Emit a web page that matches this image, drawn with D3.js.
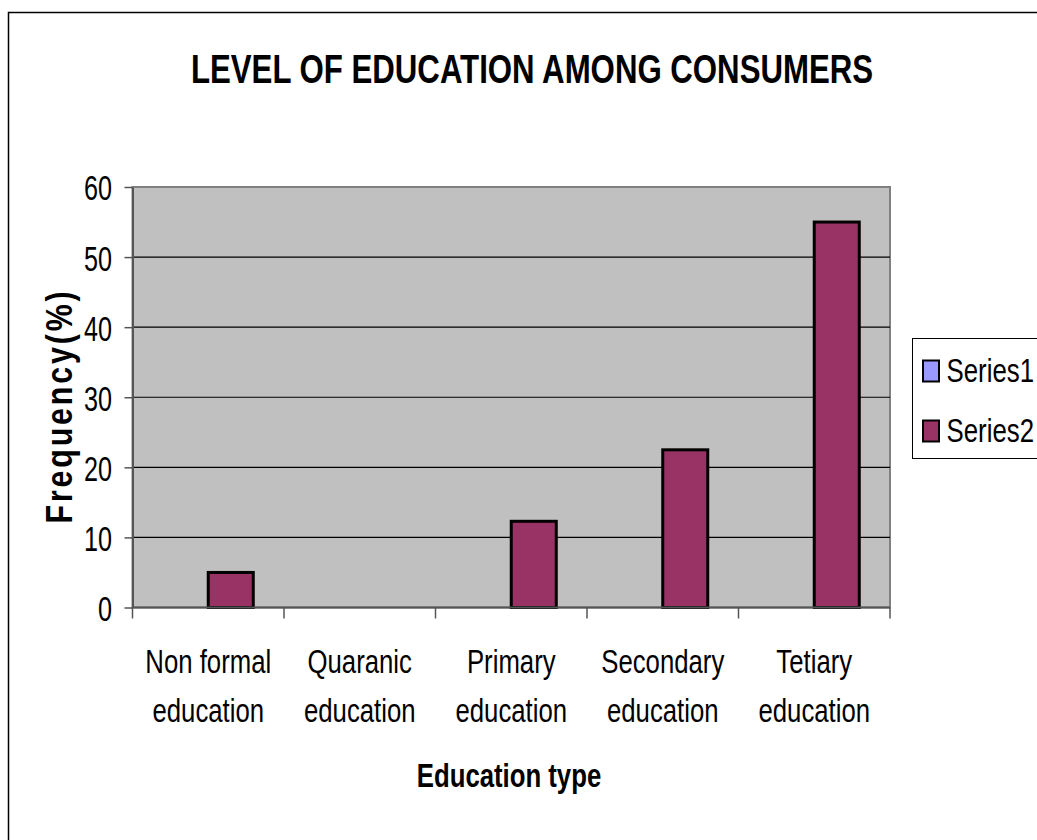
<!DOCTYPE html>
<html>
<head>
<meta charset="utf-8">
<script src="https://cdn.jsdelivr.net/npm/d3@7"></script>
<style>
    body { margin: 0; background: #fff; }
    svg { display: block; font-family: "Liberation Sans", Arial, sans-serif; }
</style>
</head>
<body>
<div id="chart"></div>
<script>
const categories = [
    ['Non formal', 'education'],
    ['Quaranic', 'education'],
    ['Primary', 'education'],
    ['Secondary', 'education'],
    ['Tetiary', 'education']
]
const seriesNames = ['Series1', 'Series2']
const series1Values = [0, 0, 0, 0, 0]
const series2Values = [5, 0, 12.3, 22.5, 55]
const yTicks = [0, 10, 20, 30, 40, 50, 60]

const seriesColours = ['#9999FF', '#993366']
const squeeze = 0.78

const width = 1037
const height = 840
const plotLeft = 132.5
const plotRight = 890
const plotTop = 187
const plotBottom = 607.5

const svg = d3.select('#chart')
    .append('svg')
    .attr('width', width)
    .attr('height', height)

// outer chart border (runs off the right and bottom)
svg.append('rect')
    .attr('x', 8.5)
    .attr('y', 12.5)
    .attr('width', 1100)
    .attr('height', 900)
    .attr('fill', '#fff')
    .attr('stroke', '#000')
    .attr('stroke-width', 1.5)

function squeezedText(parent, x, y, txt, opts = {}) {
    return parent.append('text')
        .attr('transform', `translate(${x},${y}) scale(${opts.squeeze || squeeze},1)`)
        .attr('text-anchor', opts.anchor || 'middle')
        .attr('font-size', opts.size || 33)
        .attr('font-weight', opts.weight || 'normal')
        .attr('fill', '#000')
        .text(txt)
}

squeezedText(svg, 532, 83, 'LEVEL OF EDUCATION AMONG CONSUMERS', { size: 40, weight: 'bold' })

const rows = categories.map((c, i) => ({
    key: c.join(' '),
    label: c,
    values: [series1Values[i], series2Values[i]]
}))

const x = d3.scaleBand()
    .domain(rows.map(d => d.key))
    .range([plotLeft, plotRight])
    .padding(0)
const xInner = d3.scaleBand()
    .domain(seriesNames)
    .range([0, x.bandwidth()])
    .paddingInner(0)
    .paddingOuter(0.683)
const y = d3.scaleLinear()
    .domain([0, 60])
    .range([plotBottom, plotTop])

// plot area
svg.append('rect')
    .attr('x', plotLeft)
    .attr('y', plotTop)
    .attr('width', plotRight - plotLeft)
    .attr('height', plotBottom - plotTop)
    .attr('fill', '#C0C0C0')
    .attr('stroke', '#808080')
    .attr('stroke-width', 2)

svg.append('g')
    .selectAll('line')
    .data(yTicks.filter(t => t > 0 && t < 60))
    .enter()
    .append('line')
    .attr('x1', plotLeft)
    .attr('x2', plotRight)
    .attr('y1', d => y(d))
    .attr('y2', d => y(d))
    .attr('stroke', '#000')
    .attr('stroke-width', 1.2)

// bars
const groups = svg.append('g')
    .selectAll('g')
    .data(rows)
    .enter()
    .append('g')
    .attr('transform', d => `translate(${x(d.key)},0)`)
groups.selectAll('rect')
    .data(d => d.values.map((v, i) => ({ name: seriesNames[i], value: v, idx: i })))
    .enter()
    .append('rect')
    .attr('x', d => xInner(d.name))
    .attr('width', xInner.bandwidth())
    .attr('y', d => y(d.value))
    .attr('height', d => y(0) - y(d.value))
    .attr('fill', d => seriesColours[d.idx])
    .attr('stroke', d => d.value > 0 ? '#000' : 'none')
    .attr('stroke-width', 3)

// y axis
const yAxis = svg.append('g')
    .attr('transform', `translate(${plotLeft},0)`)
    .call(d3.axisLeft(y).tickValues(yTicks).tickSize(8).tickSizeOuter(0))
yAxis.select('.domain').attr('stroke', '#555').attr('stroke-width', 2)
yAxis.selectAll('.tick line').attr('stroke', '#555').attr('stroke-width', 1.5)
yAxis.selectAll('.tick text')
    .attr('x', 0)
    .attr('dy', '0.36em')
    .attr('transform', 'translate(-20.5,0) scale(0.7,1)')
    .attr('font-size', 36)
    .attr('font-family', null)
    .attr('fill', '#000')

// x axis
svg.append('line')
    .attr('x1', plotLeft)
    .attr('x2', plotRight)
    .attr('y1', plotBottom)
    .attr('y2', plotBottom)
    .attr('stroke', '#555')
    .attr('stroke-width', 2)
const boundaries = rows.map(d => x(d.key)).concat([x.range()[1]])
svg.append('g')
    .selectAll('line')
    .data(boundaries)
    .enter()
    .append('line')
    .attr('x1', d => d)
    .attr('x2', d => d)
    .attr('y1', plotBottom)
    .attr('y2', plotBottom + 11)
    .attr('stroke', '#555')
    .attr('stroke-width', 1.5)

const xLabels = svg.append('g')
    .selectAll('text')
    .data(rows)
    .enter()
    .append('text')
    .attr('transform', d => `translate(${x(d.key) + x.bandwidth() / 2},${plotBottom + 65.5}) scale(${squeeze},1)`)
    .attr('text-anchor', 'middle')
    .attr('font-size', 33)
xLabels.selectAll('tspan')
    .data(d => d.label)
    .enter()
    .append('tspan')
    .attr('x', 0)
    .attr('dy', (d, i) => i === 0 ? 0 : 49)
    .text(d => d)

squeezedText(svg, 509, 787, 'Education type', { size: 33, weight: 'bold' })

// y axis title
svg.append('text')
    .attr('transform', 'translate(72,406) rotate(-90) scale(0.82,1)')
    .attr('text-anchor', 'middle')
    .attr('font-size', 37)
    .attr('font-weight', 'bold')
    .attr('letter-spacing', 3.5)
    .text('Frequency(%)')

// legend
const legend = svg.append('g')
legend.append('rect')
    .attr('x', 912.5)
    .attr('y', 338.5)
    .attr('width', 200)
    .attr('height', 120)
    .attr('fill', '#fff')
    .attr('stroke', '#000')
    .attr('stroke-width', 1)
const legendEntry = legend.selectAll('g')
    .data(seriesNames)
    .enter()
    .append('g')
    .attr('transform', (d, i) => `translate(0,${i * 60})`)
legendEntry.append('rect')
    .attr('x', 923)
    .attr('y', 360.5)
    .attr('width', 16)
    .attr('height', 21)
    .attr('fill', (d, i) => seriesColours[i])
    .attr('stroke', '#000')
    .attr('stroke-width', 2)
legendEntry.append('text')
    .attr('transform', 'translate(946.5,381.5) scale(0.76,1)')
    .attr('font-size', 34)
    .text(d => d)
</script>
</body>
</html>
